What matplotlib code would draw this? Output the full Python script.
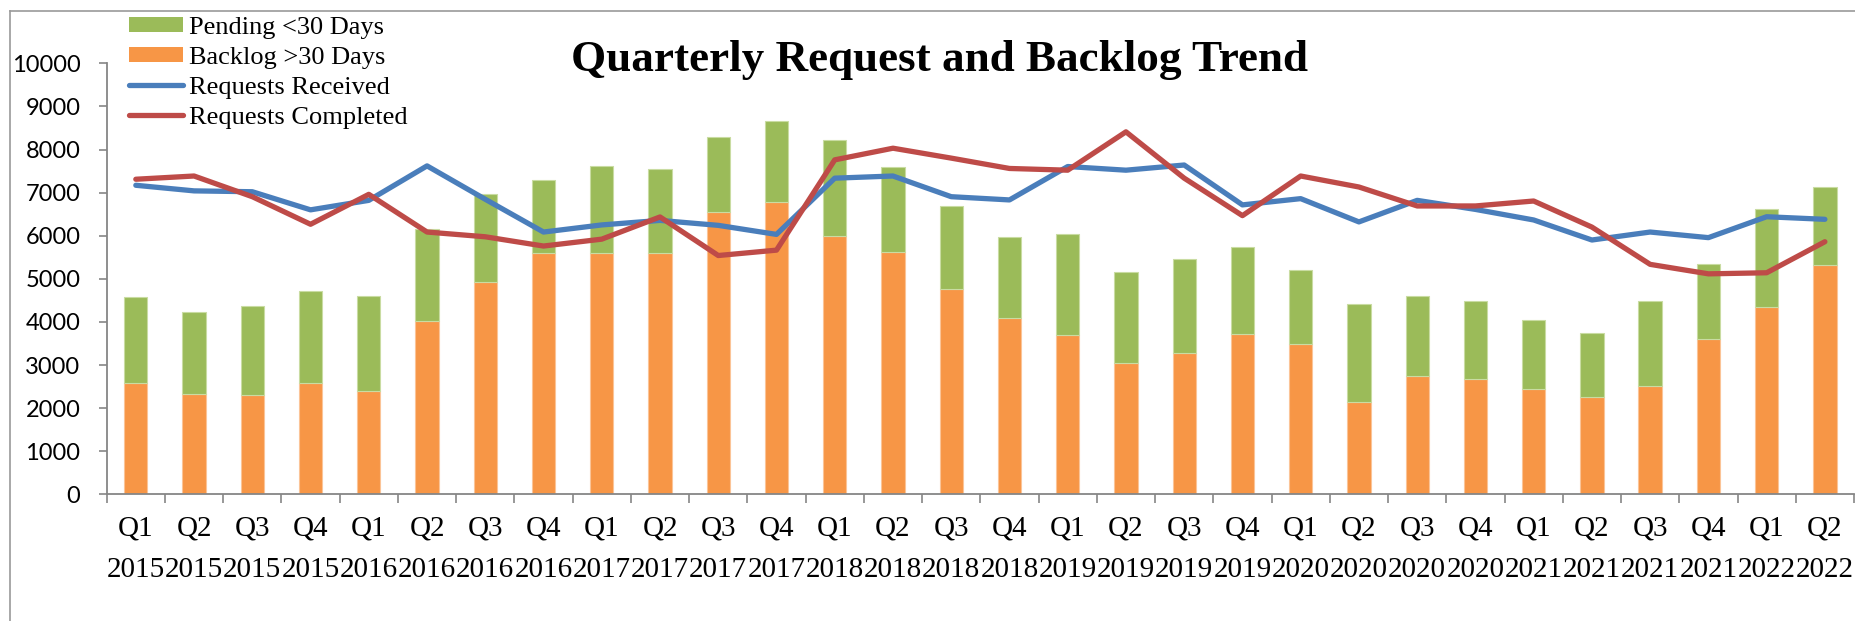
import numpy as np
import matplotlib
matplotlib.use("Agg")
import matplotlib.pyplot as plt
from matplotlib.patches import Patch
from matplotlib.lines import Line2D

# ---------------- data ----------------
quarters = ["Q1", "Q2", "Q3", "Q4", "Q1", "Q2", "Q3", "Q4", "Q1", "Q2",
            "Q3", "Q4", "Q1", "Q2", "Q3", "Q4", "Q1", "Q2", "Q3", "Q4",
            "Q1", "Q2", "Q3", "Q4", "Q1", "Q2", "Q3", "Q4", "Q1", "Q2"]
years = ["2015", "2015", "2015", "2015", "2016", "2016", "2016", "2016",
         "2017", "2017", "2017", "2017", "2018", "2018", "2018", "2018",
         "2019", "2019", "2019", "2019", "2020", "2020", "2020", "2020",
         "2021", "2021", "2021", "2021", "2022", "2022"]

backlog_over_30 = [2580, 2320, 2300, 2575, 2390, 4020, 4920, 5605, 5605, 5610,
                   6560, 6790, 6000, 5620, 4760, 4090, 3700, 3045, 3280, 3720,
                   3480, 2140, 2735, 2675, 2440, 2255, 2520, 3605, 4345, 5310]
pending_under_30 = [1990, 1905, 2080, 2135, 2210, 2130, 2055, 1680, 2015, 1930,
                    1725, 1860, 2215, 1970, 1930, 1870, 2350, 2110, 2175, 2010,
                    1735, 2285, 1855, 1805, 1610, 1490, 1975, 1730, 2275, 1830]
requests_received = [7170, 7040, 7020, 6600, 6820, 7620, 6845, 6085, 6250, 6355,
                     6240, 6030, 7335, 7385, 6905, 6830, 7605, 7520, 7640, 6715,
                     6860, 6320, 6820, 6610, 6365, 5900, 6085, 5955, 6440, 6380]
requests_completed = [7310, 7385, 6905, 6265, 6960, 6085, 5975, 5760, 5920, 6435,
                      5540, 5665, 7760, 8030, 7800, 7560, 7520, 8410, 7335, 6465,
                      7385, 7130, 6690, 6690, 6805, 6200, 5335, 5115, 5140, 5860]

title = "Quarterly Request and Backlog Trend"
series_names = ["Pending <30 Days", "Backlog >30 Days",
                "Requests Received", "Requests Completed"]

# ---------------- style ----------------
GREEN = "#9BBB59"
ORANGE = "#F79646"
BLUE = "#4A7EBB"
RED = "#BE4B48"
AXIS_GRAY = "#868686"
SERIF = ["Liberation Serif", "DejaVu Serif"]
SANS = ["Lato", "DejaVu Sans"]

W, H = 1855, 621
fig = plt.figure(figsize=(W / 100, H / 100), dpi=100)
fig.patch.set_facecolor("white")

left_px, right_px, top_px, bot_px = 106.7, 1854.0, 63.3, 494.3
ax = fig.add_axes([left_px / W, 1 - bot_px / H,
                   (right_px - left_px) / W, (bot_px - top_px) / H])

x = np.arange(len(quarters))
bw = 0.40
ax.bar(x, backlog_over_30, width=bw, color=ORANGE, edgecolor="#FBC497",
       linewidth=0.8, zorder=2)
ax.bar(x, pending_under_30, width=bw, bottom=backlog_over_30, color=GREEN,
       edgecolor="#C9DCA2", linewidth=0.8, zorder=2)
ax.plot(x, requests_received, color=BLUE, lw=3.8, solid_capstyle="round",
        solid_joinstyle="round", zorder=3)
ax.plot(x, requests_completed, color=RED, lw=3.8, solid_capstyle="round",
        solid_joinstyle="round", zorder=4)

ax.set_xlim(-0.5, len(quarters) - 0.5)
ax.set_ylim(0, 10000)
ax.set_yticks(np.arange(0, 10001, 1000))
ax.set_yticklabels([str(v) for v in range(0, 10001, 1000)],
                   fontfamily=SANS, fontsize=17)

for s in ["top", "right"]:
    ax.spines[s].set_visible(False)
for s in ["left", "bottom"]:
    ax.spines[s].set_color(AXIS_GRAY)
    ax.spines[s].set_linewidth(1.3)

ax.tick_params(axis="y", length=6, width=1.2, color=AXIS_GRAY, pad=13,
               labelcolor="black")
ax.set_xticks(np.arange(-0.5, len(quarters), 1.0))
ax.set_xticklabels([])
ax.tick_params(axis="x", which="major", length=6.5, width=1.2,
               color=AXIS_GRAY, direction="out")
ax.set_xticks(x, minor=True)
ax.set_xticklabels([f"{q}\n{y}" for q, y in zip(quarters, years)], minor=True,
                   fontfamily=SERIF, fontsize=21, linespacing=1.75)
ax.tick_params(axis="x", which="minor", length=0, pad=15.5,
               labelcolor="black")

# title
fig.text(940 / W, 1 - 70.7 / H, title, ha="center", va="baseline",
         fontsize=32.5, fontweight="bold", fontfamily=SERIF)

# legend
handles = [Patch(facecolor=GREEN, edgecolor="none"),
           Patch(facecolor=ORANGE, edgecolor="none"),
           Line2D([], [], color=BLUE, lw=3.8, solid_capstyle="round"),
           Line2D([], [], color=RED, lw=3.8, solid_capstyle="round")]
leg = ax.legend(handles, series_names, loc="upper left",
                bbox_to_anchor=(129 / W, 1 - 17 / H),
                bbox_transform=fig.transFigure, frameon=False,
                borderpad=0, borderaxespad=0, handlelength=2.05,
                handleheight=0.52, handletextpad=0.22, labelspacing=0.3,
                prop={"family": SERIF, "size": 19})

# outer chart border (partially visible)
fig.add_artist(Line2D([10 / W, 1.0], [1 - 11 / H, 1 - 11 / H],
                      transform=fig.transFigure, color="#9A9A9A", lw=1.2))
fig.add_artist(Line2D([10 / W, 10 / W], [0, 1 - 11 / H],
                      transform=fig.transFigure, color="#9A9A9A", lw=1.2))

fig.savefig("out.png", dpi=100, facecolor="white")
